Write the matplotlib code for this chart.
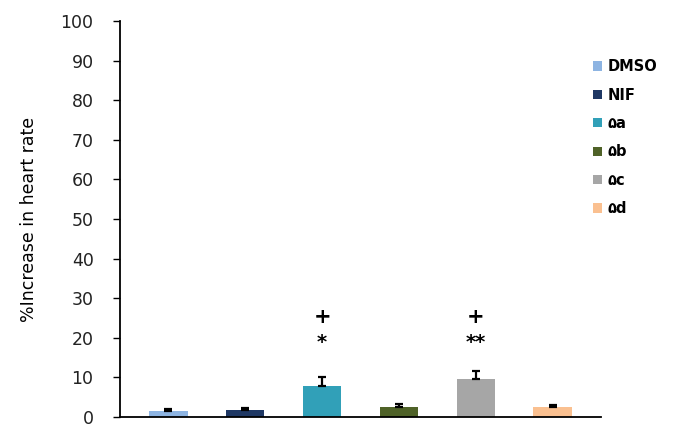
import matplotlib.pyplot as plt
import numpy as np
from matplotlib.patches import Patch

# Data
groups = ['DMSO', 'NIF', '\u06F5a', '\u06F5b', '\u06F5c', '\u06F5d']
values = [1.6, 1.8, 7.9, 2.6, 9.5, 2.6]
errors = [0.5, 0.4, 2.1, 0.7, 2.0, 0.4]
colors = ['#8DB4E2', '#1F3864', '#31A0B8', '#4F6228', '#A6A6A6', '#FAC090']
marks = ['', '', '*', '', '**', '']
plus = ['', '', '+', '', '+', '']
yticks = np.arange(0, 101, 10)

fig = plt.figure(figsize=(6.76, 4.38), dpi=100)
ax = fig.add_axes([120/676, 21/438, 481/676, 396/438])

x = np.arange(len(groups))
ax.bar(x, values, width=0.5, color=colors, zorder=2)
ax.errorbar(x, values, yerr=[np.zeros(len(errors)), errors], fmt='none',
            ecolor='black', elinewidth=1.6, capsize=3, capthick=1.6, zorder=3)

# significance marks
for i in range(len(groups)):
    if marks[i]:
        ax.text(x[i], 18.8, marks[i], ha='center', va='center', fontsize=14,
                fontweight='bold')
    if plus[i]:
        ax.text(x[i], 25.3, plus[i], ha='center', va='center', fontsize=15,
                fontweight='bold')

ax.set_xlim(-0.63, 5.63)
ax.set_ylim(0, 100)
ax.set_yticks(yticks)
ax.set_yticklabels([str(t) for t in yticks], fontsize=12.5, color='#222222')
ax.set_xticks([])
ax.tick_params(axis='y', direction='out', length=5, width=1, pad=14)
ax.spines['top'].set_visible(False)
ax.spines['right'].set_visible(False)
ax.spines['left'].set_linewidth(1.3)
ax.spines['bottom'].set_linewidth(1.3)
ax.set_ylabel('%Increase in heart rate', fontsize=12.5, labelpad=16)

handles = [Patch(facecolor=c, edgecolor='none') for c in colors]
leg = fig.legend(handles, groups, loc='upper left', bbox_to_anchor=(580/676, 1 - 46/438),
                 frameon=False, handlelength=0.6, handleheight=0.6, handletextpad=0.4,
                 labelspacing=0.92, prop={'size': 10.5, 'weight': 'bold'})

fig.savefig('out.png', dpi=100)
